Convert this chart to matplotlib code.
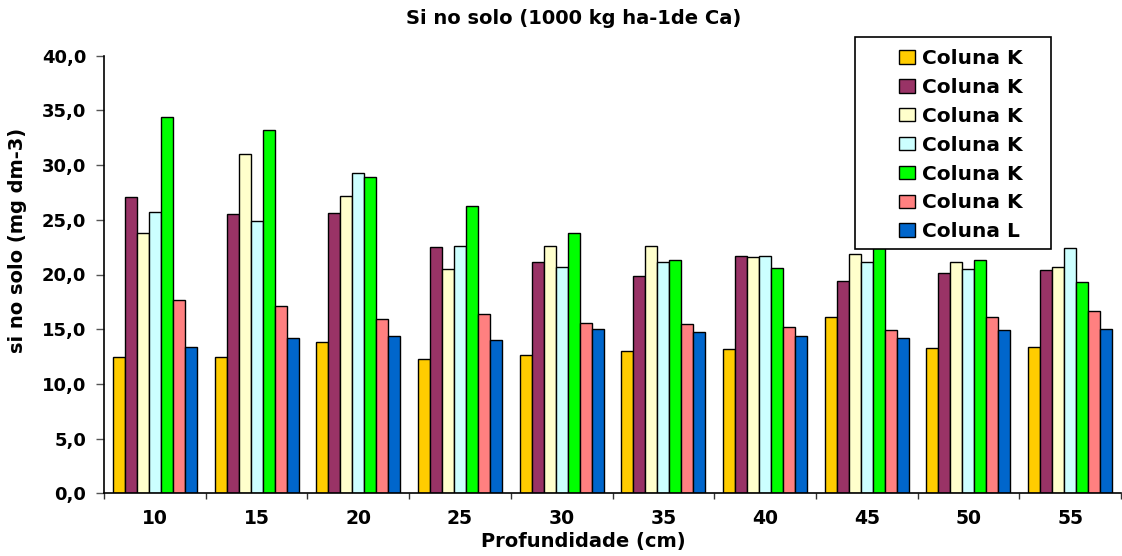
import numpy as np
import matplotlib
matplotlib.use('Agg')
import matplotlib.pyplot as plt
from matplotlib.patches import Rectangle
from matplotlib.ticker import FixedLocator

# profundidade das amostras
prof = ['10', '15', '20', '25', '30', '35', '40', '45', '50', '55']

col_k1 = [12.5, 12.5, 13.8, 12.3, 12.6, 13.0, 13.2, 16.1, 13.3, 13.4]
col_k2 = [27.1, 25.5, 25.6, 22.5, 21.1, 19.9, 21.7, 19.4, 20.1, 20.4]
col_k3 = [23.8, 31.0, 27.2, 20.5, 22.6, 22.6, 21.6, 21.9, 21.1, 20.7]
col_k4 = [25.7, 24.9, 29.3, 22.6, 20.7, 21.1, 21.7, 21.1, 20.5, 22.4]
col_k5 = [34.4, 33.2, 28.9, 26.3, 23.8, 21.3, 20.6, 25.0, 21.3, 19.3]
col_k6 = [17.7, 17.1, 15.9, 16.4, 15.6, 15.5, 15.2, 14.9, 16.1, 16.7]
col_l = [13.4, 14.2, 14.4, 14.0, 15.0, 14.7, 14.4, 14.2, 14.9, 15.0]

series = [col_k1, col_k2, col_k3, col_k4, col_k5, col_k6, col_l]
nomes = ['Coluna K', 'Coluna K', 'Coluna K', 'Coluna K', 'Coluna K', 'Coluna K', 'Coluna L']
cores = ['#FFCC00', '#993366', '#FFFFCC', '#CCFFFF', '#00FF00', '#FF8080', '#0066CC']

yticks = [0, 5, 10, 15, 20, 25, 30, 35, 40]
ytick_labels = ['0,0', '5,0', '10,0', '15,0', '20,0', '25,0', '30,0', '35,0', '40,0']

plt.rcParams['font.family'] = 'DejaVu Sans'
plt.rcParams['font.weight'] = 'bold'

W, H = 1122, 556
fig = plt.figure(figsize=(W / 100, H / 100), dpi=100)
ax = fig.add_axes([104 / W, 1 - 493.3 / H, (1121 - 104) / W, (493.3 - 55.7) / H])

x = np.arange(len(prof))
w = 0.118
for i, (vals, cor, nome) in enumerate(zip(series, cores, nomes)):
    ax.bar(x + (i - 3) * w, vals, w, color=cor, edgecolor='black', linewidth=1.0,
           label=nome, zorder=2)

ax.set_xlim(-0.5, len(prof) - 0.5)
ax.set_ylim(0, 40)
ax.set_yticks(yticks)
ax.set_yticklabels(ytick_labels, fontsize=13, fontweight='bold')
ax.set_xticks(x)
ax.set_xticklabels(prof, fontsize=13.5, fontweight='bold')
ax.xaxis.set_minor_locator(FixedLocator(np.arange(-0.5, len(prof), 1.0)))
ax.tick_params(axis='x', which='major', length=0, pad=11)
ax.tick_params(axis='x', which='minor', length=4.5, width=1, color='#333333')
ax.tick_params(axis='y', length=5.8, width=1, color='#555555', pad=7)

for s in ['top', 'right']:
    ax.spines[s].set_visible(False)
ax.spines['left'].set_linewidth(1.2)
ax.spines['bottom'].set_linewidth(1.2)

fig.text(574 / W, 1 - 18 / H, 'Si no solo (1000 kg ha-1de Ca)', ha='center', va='center',
         fontsize=14, fontweight='bold')
fig.text(583 / W, 1 - 542 / H, 'Profundidade (cm)', ha='center', va='center',
         fontsize=14, fontweight='bold')
fig.text(18 / W, 1 - 240 / H, 'si no solo (mg dm-3)', ha='center', va='center',
         rotation=90, fontsize=14, fontweight='bold')

# caixa da legenda
caixa = Rectangle((855 / W, 1 - 249 / H), (1051 - 855) / W, (249 - 37) / H,
                  transform=fig.transFigure, facecolor='white', edgecolor='black',
                  linewidth=1.2, zorder=4, clip_on=False)
ax.add_patch(caixa)
leg = ax.legend(loc='upper left', bbox_to_anchor=(889 / W, 1 - 39 / H),
                bbox_transform=fig.transFigure, frameon=False, borderpad=0,
                handlelength=0.8, handleheight=0.65,
                handletextpad=0.35, labelspacing=0.49, prop={'weight': 'bold', 'size': 14.5})
leg.set_zorder(5)

fig.savefig('out.png', dpi=100)
